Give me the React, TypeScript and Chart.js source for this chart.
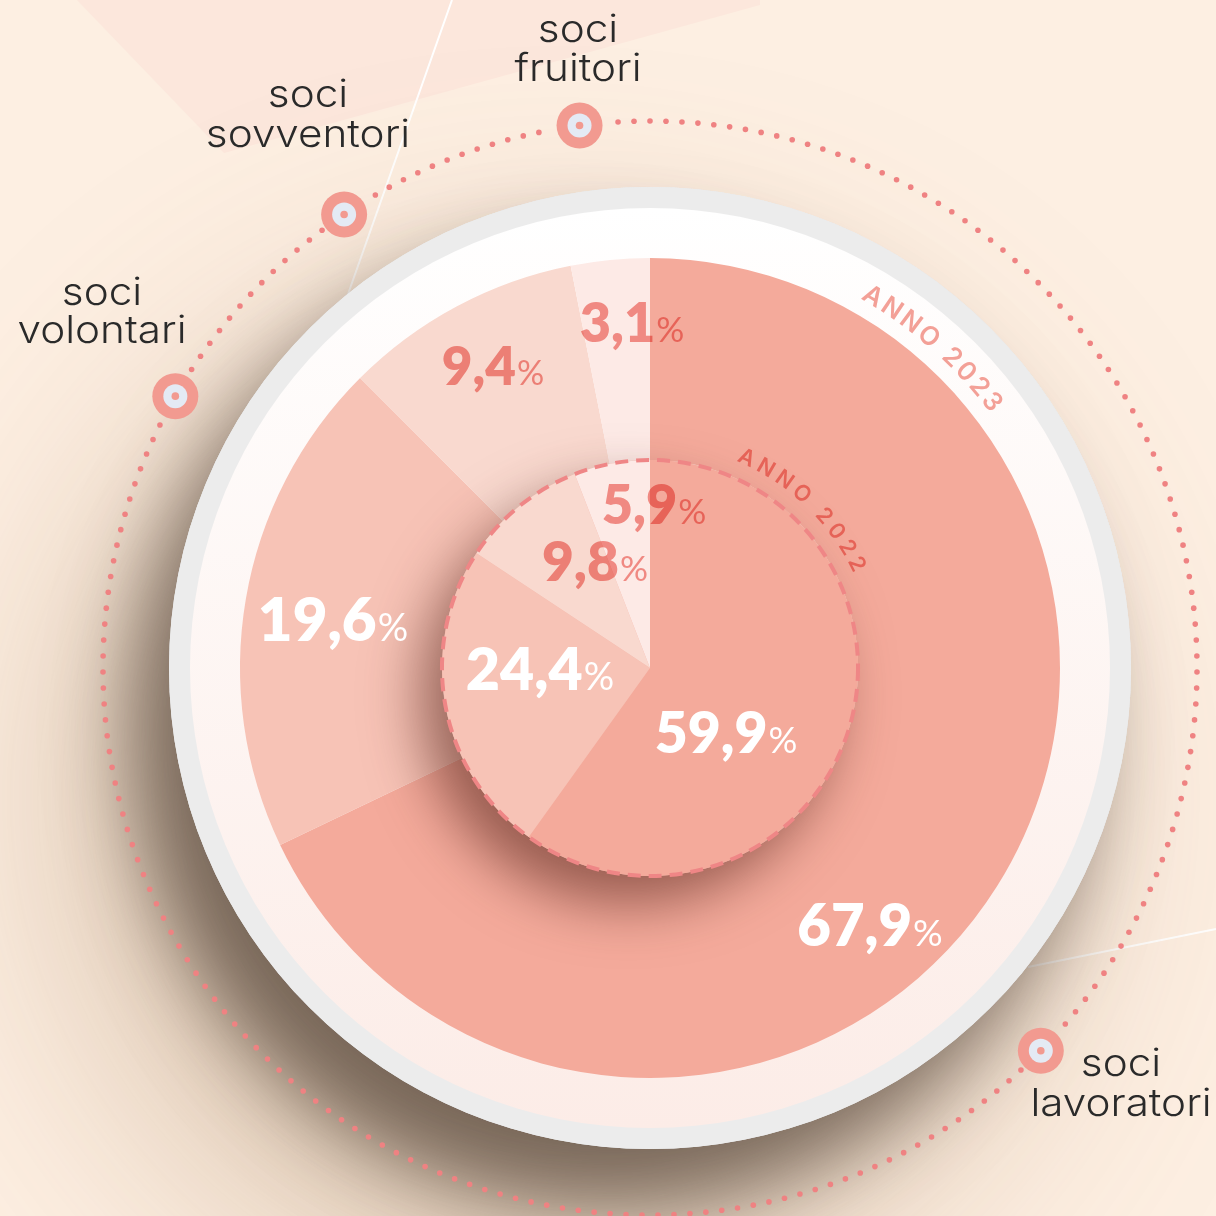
import React, { useEffect, useRef } from 'react';
import { Chart, registerables } from 'chart.js';

Chart.register(...registerables);

// ---------- data ----------
const categories = ['soci lavoratori', 'soci volontari', 'soci sovventori', 'soci fruitori'];
const values2023 = [67.9, 19.6, 9.4, 3.1];
const values2022 = [59.9, 24.4, 9.8, 5.9];
const yearLabels = ['ANNO 2023', 'ANNO 2022'];
const categoryLines = [
  ['soci', 'lavoratori'],
  ['soci', 'volontari'],
  ['soci', 'sovventori'],
  ['soci', 'fruitori'],
];

// ---------- styles / layout ----------
const W = 1216;
const H = 1216;
const CX = 650;
const CY = 668;
const R = 410;
const sliceColors = ['#F4AA9B', '#F7C3B6', '#F9D9CF', '#FDEAE6'];
const textRed = '#F29590';
// label anchors (center x offset, baseline y, font size, white?)
const outerLabelPos = [
  { dx: 220, dy: 946, size: 58, white: true },
  { dx: -317, dy: 641, size: 60, white: true },
  { dx: -157, dy: 385, size: 53, white: false },
  { dx: -18, dy: 342, size: 54, white: false },
];
const innerLabelPos = [
  { dx: 76, dy: 753, size: 57, white: true },
  { dx: 540 - CX, dy: 690, size: 59, white: true },
  { dx: -55, dy: 581, size: 55, white: false },
  { dx: 4, dy: 524, size: 54, white: false },
];
// marker angles (deg clockwise from top) on dotted ring, and text anchors
const markerAngles = [134.4, -60.2, -34, -7.4];
const categoryTextPos = [
  { x: 1121, y1: 1076, y2: 1116 },
  { x: 102, y1: 305, y2: 343 },
  { x: 308, y1: 107, y2: 147 },
  { x: 578, y1: 42, y2: 81 },
];

const fmt = (v: number) => v.toFixed(1).replace('.', ',');

function arcText(
  ctx: CanvasRenderingContext2D,
  text: string,
  cx: number,
  cy: number,
  r: number,
  startDeg: number,
  endDeg: number,
  font: string,
  color: string,
  op: GlobalCompositeOperation
) {
  ctx.save();
  ctx.font = font;
  ctx.fillStyle = color;
  ctx.globalCompositeOperation = op;
  const chars = Array.from(text);
  const widths = chars.map((c) => ctx.measureText(c).width);
  const total = widths.reduce((a, b) => a + b, 0);
  const arcLen = (((endDeg - startDeg) * Math.PI) / 180) * r;
  const spacing = (arcLen - total) / (chars.length - 1);
  let s = 0;
  const a0 = (startDeg * Math.PI) / 180;
  chars.forEach((c, i) => {
    const mid = s + widths[i] / 2;
    const ang = a0 + mid / r;
    ctx.save();
    ctx.translate(cx + r * Math.sin(ang), cy - r * Math.cos(ang));
    ctx.rotate(ang);
    ctx.textAlign = 'center';
    ctx.textBaseline = 'middle';
    ctx.fillText(c, 0, 0);
    ctx.restore();
    s += widths[i] + spacing;
  });
  ctx.restore();
}

function drawPct(
  ctx: CanvasRenderingContext2D,
  value: number,
  x: number,
  y: number,
  size: number,
  white: boolean
) {
  const num = fmt(value);
  ctx.save();
  ctx.textAlign = 'left';
  ctx.textBaseline = 'alphabetic';
  const numFont = `800 ${size}px Lato`;
  const pctFont = `400 ${Math.round(size * 0.64)}px Lato`;
  ctx.font = numFont;
  const nw = ctx.measureText(num).width;
  ctx.font = pctFont;
  const pw = ctx.measureText('%').width;
  const start = x - (nw + pw + 1) / 2;
  if (white) {
    ctx.fillStyle = '#FFFFFF';
  } else {
    ctx.fillStyle = textRed;
    ctx.globalCompositeOperation = 'multiply';
  }
  ctx.font = numFont;
  ctx.fillText(num, start, y);
  ctx.font = pctFont;
  ctx.fillText('%', start + nw + 1, y);
  ctx.restore();
}

const decor = {
  id: 'decor',
  beforeDraw(chart: any) {
    const ctx: CanvasRenderingContext2D = chart.ctx;
    const arc: any = chart.getDatasetMeta(0).data[0];
    const cx = arc.x;
    const cy = arc.y;
    ctx.save();
    // background
    ctx.fillStyle = '#FDEFE2';
    ctx.fillRect(0, 0, W, H);
    // top-left lighter pink polygon
    ctx.fillStyle = '#FCE7DC';
    ctx.beginPath();
    ctx.moveTo(77, 0);
    ctx.lineTo(760, 0);
    ctx.lineTo(760, 5);
    ctx.lineTo(224, 153);
    ctx.closePath();
    ctx.fill();
    // thin white lines
    ctx.strokeStyle = '#FFFFFF';
    ctx.lineWidth = 2;
    ctx.beginPath();
    ctx.moveTo(452, 0);
    ctx.lineTo(347, 297);
    ctx.moveTo(1028, 967);
    ctx.lineTo(1216, 929);
    ctx.stroke();

    // soft shadow of the disc
    ctx.save();
    ctx.fillStyle = '#ECECEC';
    ctx.shadowColor = 'rgba(150,110,70,0.38)';
    ctx.shadowBlur = 260;
    ctx.shadowOffsetX = -90;
    ctx.shadowOffsetY = 130;
    ctx.beginPath();
    ctx.arc(cx, cy, 481, 0, Math.PI * 2);
    ctx.fill();
    ctx.shadowColor = 'rgba(60,45,35,0.62)';
    ctx.shadowBlur = 80;
    ctx.shadowOffsetX = -38;
    ctx.shadowOffsetY = 58;
    ctx.beginPath();
    ctx.arc(cx, cy, 481, 0, Math.PI * 2);
    ctx.fill();
    ctx.restore();

    // grey ring
    ctx.fillStyle = '#ECECEC';
    ctx.beginPath();
    ctx.arc(cx, cy, 481, 0, Math.PI * 2);
    ctx.fill();
    // white ring with gradient
    const g = ctx.createLinearGradient(0, cy - 460, 0, cy + 460);
    g.addColorStop(0, '#FFFFFF');
    g.addColorStop(1, '#FCECE7');
    ctx.fillStyle = g;
    ctx.beginPath();
    ctx.arc(cx, cy, 460, 0, Math.PI * 2);
    ctx.fill();

    // dotted ring
    const rd = 547;
    const markers = markerAngles.map((a) => {
      const t = (a * Math.PI) / 180;
      return { x: cx + rd * Math.sin(t), y: cy - rd * Math.cos(t) };
    });
    const n = Math.round((2 * Math.PI * rd) / 16);
    ctx.fillStyle = '#EF8282';
    for (let i = 0; i < n; i++) {
      const t = (i / n) * Math.PI * 2;
      const x = cx + rd * Math.sin(t);
      const y = cy - rd * Math.cos(t);
      if (markers.some((m) => Math.hypot(m.x - x, m.y - y) < 27)) continue;
      ctx.beginPath();
      ctx.arc(x, y, 2.8, 0, Math.PI * 2);
      ctx.fill();
    }
    // markers
    markers.forEach((m) => {
      ctx.fillStyle = '#F29A90';
      ctx.beginPath();
      ctx.arc(m.x, m.y, 23, 0, Math.PI * 2);
      ctx.fill();
      ctx.fillStyle = '#E4EAF4';
      ctx.beginPath();
      ctx.arc(m.x, m.y, 12, 0, Math.PI * 2);
      ctx.fill();
      ctx.fillStyle = '#F29A90';
      ctx.beginPath();
      ctx.arc(m.x, m.y, 3.8, 0, Math.PI * 2);
      ctx.fill();
    });
    // category labels (fitted horizontally to the original's wide geometric face)
    ctx.fillStyle = '#2A2A2A';
    ctx.font = '300 38px Inter';
    ctx.textAlign = 'center';
    ctx.textBaseline = 'alphabetic';
    const sx = 169 / ctx.measureText('volontari').width;
    categoryLines.forEach((lines, i) => {
      const p = categoryTextPos[i];
      ctx.save();
      ctx.translate(p.x, 0);
      ctx.scale(sx, 1);
      ctx.fillText(lines[0], 0, p.y1);
      ctx.fillText(lines[1], 0, p.y2);
      ctx.restore();
    });
    ctx.restore();
  },
  beforeDatasetDraw(chart: any, args: any) {
    if (args.index !== 1) return;
    const ctx: CanvasRenderingContext2D = chart.ctx;
    const arc: any = chart.getDatasetMeta(1).data[0];
    ctx.save();
    ctx.fillStyle = sliceColors[0];
    ctx.shadowColor = 'rgba(90,40,30,0.6)';
    ctx.shadowBlur = 55;
    ctx.shadowOffsetX = -22;
    ctx.shadowOffsetY = 28;
    ctx.beginPath();
    ctx.arc(arc.x, arc.y, arc.outerRadius, 0, Math.PI * 2);
    ctx.fill();
    ctx.restore();
  },
  afterDatasetsDraw(chart: any) {
    const ctx: CanvasRenderingContext2D = chart.ctx;
    const outer: any = chart.getDatasetMeta(0).data[0];
    const inner: any = chart.getDatasetMeta(1).data[0];
    const cx = outer.x;
    const cy = outer.y;
    // dashed inner circle
    ctx.save();
    ctx.strokeStyle = '#EF8686';
    ctx.lineWidth = 4;
    ctx.setLineDash([13, 8]);
    ctx.beginPath();
    ctx.arc(cx, cy, inner.outerRadius, 0, Math.PI * 2);
    ctx.stroke();
    ctx.restore();
    // percentage labels
    values2023.forEach((v, i) => {
      const p = outerLabelPos[i];
      drawPct(ctx, v, cx + p.dx, p.dy - CY + cy, p.size, p.white);
    });
    values2022.forEach((v, i) => {
      const p = innerLabelPos[i];
      drawPct(ctx, v, cx + p.dx, p.dy - CY + cy, p.size, p.white);
    });
    // curved year labels
    arcText(ctx, yearLabels[0], cx, cy, 433, 29.7, 53.2, '600 26px Inter', '#F3A097', 'source-over');
    arcText(ctx, yearLabels[1], cx, cy, 231, 22.7, 65, '600 22px Inter', textRed, 'multiply');
  },
};

export default function App() {
  const ref = useRef<HTMLCanvasElement>(null);
  useEffect(() => {
    document.body.style.margin = '0';
    const canvas = ref.current;
    if (!canvas) return;
    const chart = new Chart(canvas, {
      type: 'pie',
      data: {
        labels: categories,
        datasets: [
          {
            label: yearLabels[0],
            data: values2023,
            backgroundColor: sliceColors,
            borderWidth: 0,
            hoverBorderWidth: 0,
            hoverOffset: 0,
            offset: 0,
            weight: 1,
            order: 1,
          } as any,
          {
            label: yearLabels[1],
            data: values2022,
            backgroundColor: sliceColors,
            borderWidth: 0,
            hoverBorderWidth: 0,
            hoverOffset: 0,
            offset: 0,
            weight: 1.03,
            order: 0,
          } as any,
        ],
      },
      options: {
        responsive: false,
        animation: false,
        devicePixelRatio: 1,
        events: [],
        layout: {
          padding: { left: CX - R, right: W - CX - R, top: CY - R, bottom: H - CY - R },
        },
        plugins: {
          legend: { display: false },
          tooltip: { enabled: false },
        },
      },
      plugins: [decor as any],
    });
    return () => chart.destroy();
  }, []);
  return (
    <div style={{ width: W, height: H, position: 'relative', overflow: 'hidden' }}>
      <canvas ref={ref} width={W} height={H} style={{ display: 'block', width: W, height: H }} />
    </div>
  );
}
